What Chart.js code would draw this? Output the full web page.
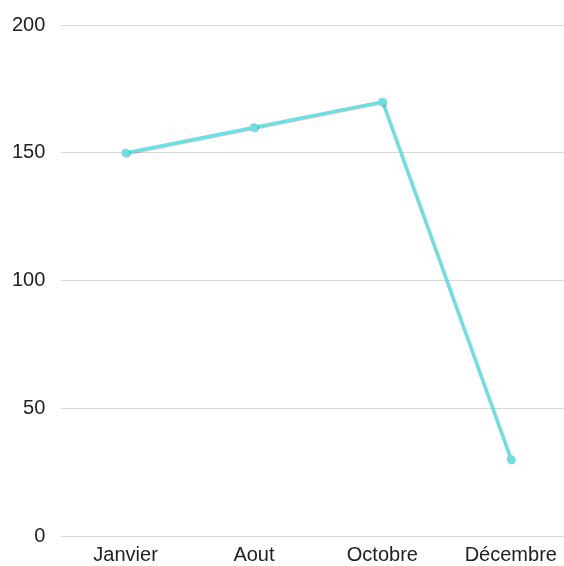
<!DOCTYPE html>
<html>
<head>
<meta charset="utf-8">
<script src="https://cdn.jsdelivr.net/npm/chart.js@4"></script>
<style>
  html, body { margin: 0; padding: 0; background: #fff; overflow: hidden; }
  #wrap { position: relative; width: 579px; height: 566px; }
</style>
</head>
<body>
<div id="wrap"><canvas id="mycanvas"></canvas></div>
<script>
var mois = ['Janvier', 'Aout', 'Octobre', 'Décembre'];
var valeurs = [150, 160, 170, 30];
var yTicks = [0, 50, 100, 150, 200];

var police = "'Liberation Sans', Arial, Helvetica, sans-serif";
var cyan = 'rgb(100,226,230)';

// petite ombre sous la ligne, comme sur le modele
var ombre = {
	id: 'ombre',
	beforeDatasetsDraw: function(chart) {
		var c = chart.ctx;
		c.save();
		c.shadowColor = 'rgba(0,0,0,0.25)';
		c.shadowBlur = 1;
		c.shadowOffsetX = 1;
		c.shadowOffsetY = 1;
	},
	afterDatasetsDraw: function(chart) {
		chart.ctx.restore();
	}
};

var ctx = document.getElementById('mycanvas');

var chartdata = {
	labels: mois,
	datasets: [
		{
			label: 'Ventes',
			data: valeurs,
			borderColor: cyan,
			backgroundColor: cyan,
			pointBackgroundColor: cyan,
			pointBorderColor: cyan,
			borderWidth: 3,
			pointRadius: 4,
			pointBorderWidth: 0,
			tension: 0,
			fill: false
		}
	]
};

var lineGraph = new Chart(ctx, {
	type: 'line',
	data: chartdata,
	plugins: [ombre],
	options: {
		responsive: true,
		maintainAspectRatio: false,
		animation: false,
		layout: { padding: { top: 4, left: -4, right: 0, bottom: 0 } },
		plugins: {
			legend: { display: false },
			tooltip: { enabled: false }
		},
		scales: {
			x: {
				offset: true,
				grid: { display: false },
				border: { display: false },
				ticks: {
					color: '#222',
					padding: -1,
					maxRotation: 0,
					font: { family: police, size: 20 }
				}
			},
			y: {
				min: 0,
				max: 200,
				afterBuildTicks: function(axis) {
					axis.ticks = yTicks.map(function(v){ return { value: v }; });
				},
				grid: { color: '#d9d9d9', lineWidth: 1, drawTicks: false },
				border: { display: false },
				ticks: {
					color: '#222',
					padding: 16,
					font: { family: police, size: 20, lineHeight: 0.9 }
				}
			}
		}
	}
});
</script>
</body>
</html>
